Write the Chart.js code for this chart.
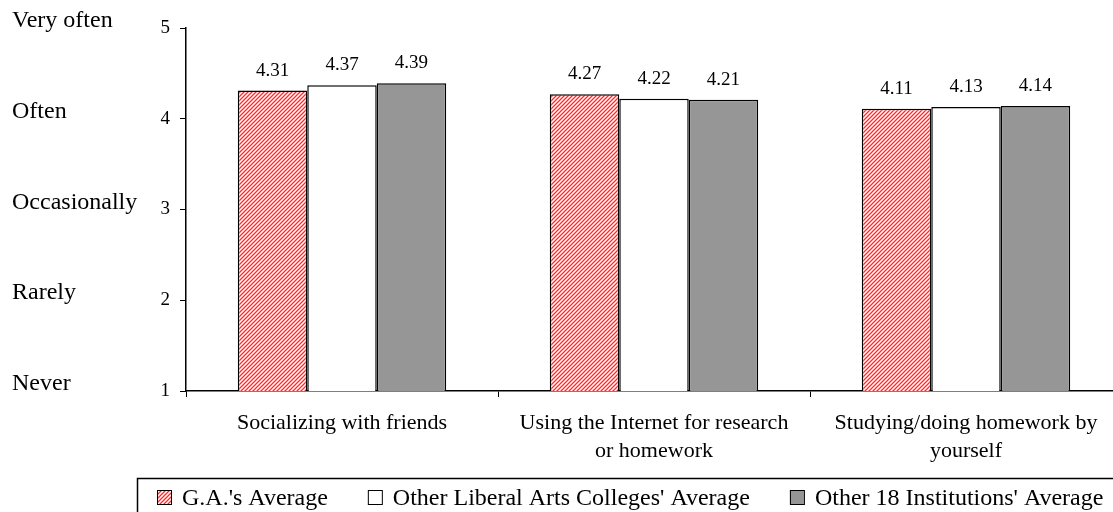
<!DOCTYPE html>
<html>
<head>
<meta charset="utf-8">
<script src="https://cdn.jsdelivr.net/npm/chart.js@4.4.1/dist/chart.umd.min.js"></script>
<style>
  html, body { margin: 0; padding: 0; background: #fff; overflow: hidden; }
  #wrap { width: 1140px; height: 512px; }
</style>
</head>
<body>
<div id="wrap"><canvas id="myChart" width="1140" height="512"></canvas></div>
<script>
// data
const categories = [
  'Socializing with friends',
  ['Using the Internet for research', 'or homework'],
  ['Studying/doing homework by', 'yourself']
];
const seriesNames = ["G.A.'s Average", "Other Liberal Arts Colleges' Average", "Other 18 Institutions' Average"];
const gaValues = [4.31, 4.27, 4.11];
const liberalArtsValues = [4.37, 4.22, 4.13];
const institutionValues = [4.39, 4.21, 4.14];
const levelValues = [1, 2, 3, 4, 5];
const levelLabels = ['Never', 'Rarely', 'Occasionally', 'Often', 'Very often'];

const serif = '"Liberation Serif", "Times New Roman", serif';
Chart.defaults.font.family = serif;
Chart.defaults.color = '#000';

// red diagonal hatch
function makeHatch() {
  const c = document.createElement('canvas');
  c.width = 4; c.height = 4;
  const g = c.getContext('2d');
  g.fillStyle = '#fff';
  g.fillRect(0, 0, 4, 4);
  g.strokeStyle = '#ff2a2a';
  g.lineWidth = 1.3;
  g.beginPath();
  g.moveTo(0, 4); g.lineTo(4, 0);
  g.moveTo(-1, 1); g.lineTo(1, -1);
  g.moveTo(3, 5); g.lineTo(5, 3);
  g.stroke();
  return g.createPattern(c, 'repeat');
}
const hatch = makeHatch();
const fills = [hatch, '#ffffff', '#969696'];

// labels above bars, level words, boxed legend
const extrasPlugin = {
  id: 'extras',
  afterDraw(chart) {
    const ctx = chart.ctx;
    ctx.save();
    ctx.fillStyle = '#000';

    ctx.font = '19px ' + serif;
    ctx.textAlign = 'center';
    ctx.textBaseline = 'alphabetic';
    chart.data.datasets.forEach((ds, i) => {
      chart.getDatasetMeta(i).data.forEach((bar, j) => {
        ctx.fillText(ds.data[j].toFixed(2), bar.x, bar.y - 15);
      });
    });

    const yScale = chart.scales.y;
    ctx.font = '24px ' + serif;
    ctx.textAlign = 'left';
    levelValues.forEach((v, k) => {
      ctx.fillText(levelLabels[k], 12, yScale.getPixelForValue(v) - 1);
    });

    ctx.lineWidth = 1.5;
    ctx.strokeStyle = '#000';
    ctx.strokeRect(137.5, 478.5, 1100, 60);
    let x = chart.chartArea.left - 29;
    chart.data.datasets.forEach((ds) => {
      ctx.fillStyle = ds.backgroundColor;
      ctx.fillRect(x, 490, 14, 14);
      ctx.lineWidth = 1;
      ctx.strokeRect(x + 0.5, 490.5, 14, 14);
      ctx.fillStyle = '#000';
      ctx.fillText(ds.label, x + 25, 505);
      x += 25 + ctx.measureText(ds.label).width + 40;
    });
    ctx.restore();
  }
};

const seriesValues = [gaValues, liberalArtsValues, institutionValues];

const config = {
  type: 'bar',
  data: {
    labels: categories,
    datasets: seriesNames.map((name, i) => ({
      label: name,
      data: seriesValues[i],
      backgroundColor: fills[i],
      borderColor: '#000',
      borderWidth: 1.5,
      categoryPercentage: 0.668,
      barPercentage: 1
    }))
  },
  options: {
    responsive: false,
    animation: false,
    layout: { padding: { top: 28, right: 18, bottom: 34, left: 0 } },
    plugins: {
      legend: { display: false },
      tooltip: { enabled: false }
    },
    scales: {
      x: {
        grid: { drawOnChartArea: false, color: '#000', tickLength: 6, offset: true },
        border: { color: '#000', width: 1.5 },
        ticks: { font: { size: 22, lineHeight: 1.27 }, color: '#000', padding: 12, maxRotation: 0, autoSkip: false },
        afterFit: (s) => { s.height = 87; }
      },
      y: {
        min: 1,
        max: 5,
        grid: { drawOnChartArea: false, color: '#000', tickLength: 6 },
        border: { color: '#000', width: 1.5 },
        ticks: { stepSize: 1, font: { size: 19 }, color: '#000', padding: 10 },
        afterFit: (s) => { s.width = 186; }
      }
    }
  },
  plugins: [extrasPlugin]
};

const myChart = new Chart(document.getElementById('myChart'), config);
</script>
</body>
</html>
